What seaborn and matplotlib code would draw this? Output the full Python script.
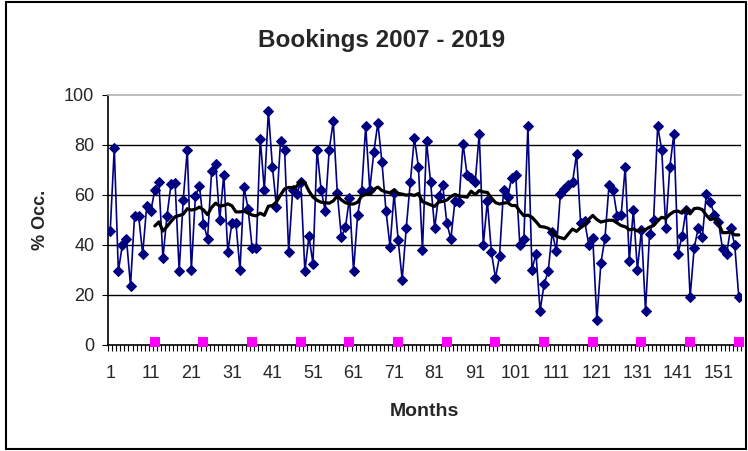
import pandas as pd
import matplotlib
matplotlib.use("Agg")
import matplotlib.pyplot as plt
import seaborn as sns
from matplotlib.patches import Rectangle

# monthly occupancy (%), Jan 2007 .. Dec 2019
occupancy = [
    45.5, 78.6, 29.3, 39.9, 42.3, 23.5, 51.5, 51.5, 36.2, 55.5, 53.3, 61.9,
    64.9, 34.6, 51.5, 64.2, 64.6, 29.3, 57.9, 77.9, 29.8, 59.3, 63.5, 48.3,
    42.3, 69.3, 72.2, 49.7, 68.0, 36.9, 48.6, 48.6, 29.8, 63.0, 54.2, 38.6,
    38.6, 82.3, 61.7, 93.5, 71.0, 55.0, 81.3, 77.9, 36.9, 61.9, 60.2, 64.9,
    29.3, 43.3, 32.4, 77.9, 61.9, 53.5, 77.9, 89.3, 60.5, 42.9, 46.9, 58.6,
    29.3, 51.7, 61.5, 87.3, 61.9, 76.9, 88.7, 73.0, 53.5, 39.1, 60.5, 41.8,
    25.9, 46.6, 64.9, 82.6, 71.0, 37.9, 81.3, 64.9, 46.6, 59.5, 63.7, 48.6,
    42.2, 57.3, 57.0, 80.3, 67.9, 66.6, 64.9, 84.3, 39.9, 57.3, 36.9, 26.6,
    35.3, 61.9, 58.9, 66.6, 67.9, 39.9, 42.3, 87.3, 29.9, 36.3, 13.5, 24.2,
    29.3, 45.0, 37.3, 60.2, 62.2, 63.9, 64.9, 76.2, 48.6, 49.3, 39.9, 42.6,
    9.9, 32.6, 42.6, 63.7, 61.9, 51.5, 51.9, 71.0, 33.5, 53.8, 29.9, 45.9,
    13.5, 44.3, 49.9, 87.3, 77.9, 46.6, 71.0, 84.3, 36.2, 43.3, 53.9, 19.0,
    38.6, 46.6, 42.9, 60.3, 56.9, 51.9, 48.9, 38.3, 36.3, 46.6, 39.9, 19.0,
]
months = list(range(1, len(occupancy) + 1))

# year-end markers shown along the bottom
year_end_months = [12, 24, 36, 48, 60, 72, 84, 96, 108, 120, 132, 144, 156]
year_end_values = [1] * len(year_end_months)

x_tick_labels = [1, 11, 21, 31, 41, 51, 61, 71, 81, 91, 101, 111, 121, 131, 141, 151]
y_ticks = [0, 20, 40, 60, 80, 100]

df = pd.DataFrame({"month": months, "occ": occupancy})
# 12 month moving average, like the Excel trendline
df["ma"] = df["occ"].rolling(12).mean()
marks = pd.DataFrame({"month": year_end_months, "val": year_end_values})

sns.set_style("white")
plt.rcParams["font.family"] = ["Liberation Sans", "DejaVu Sans"]

W, H = 748, 451
fig = plt.figure(figsize=(W / 100, H / 100), dpi=100)
ax = fig.add_axes([108.2 / W, (H - 344.5) / H, (740.8 - 108.2) / W, 250 / H])

for v in y_ticks[1:-1]:
    ax.axhline(v, color="black", lw=1.0, zorder=1)

sns.lineplot(data=df, x="month", y="occ", ax=ax, color="#000080", lw=1.2,
             marker="D", markersize=5.5, markeredgecolor="#000080",
             markerfacecolor="#000080", zorder=3)
sns.lineplot(data=df, x="month", y="ma", ax=ax, color="black", lw=2.3, zorder=4)
sns.lineplot(data=marks, x="month", y="val", ax=ax, color="#FF00FF", lw=0,
             marker="s", markersize=6.5, markeredgewidth=0, zorder=5, clip_on=False)

ax.set_xlim(0.5, len(occupancy) + 0.5)
ax.set_ylim(0, 100)
ax.set_yticks(y_ticks)
ax.set_xticks(x_tick_labels)
ax.set_xticklabels([str(t) for t in x_tick_labels])
ax.set_xticks([m + 0.5 for m in range(0, len(occupancy) + 1)], minor=True)
ax.tick_params(axis="x", which="major", length=0, pad=15, labelsize=13)
ax.tick_params(axis="x", which="minor", length=4, width=0.8, direction="out",
               color="black", bottom=True)
ax.tick_params(axis="y", length=4, width=0.8, direction="out", color="black",
               left=True, pad=6, labelsize=13)

for side in ["left", "bottom"]:
    ax.spines[side].set_color("black")
    ax.spines[side].set_linewidth(1.2)
ax.spines["top"].set_color("#b0b0b0")
ax.spines["top"].set_linewidth(1.2)
ax.spines["right"].set_visible(False)

ax.set_xlabel("Months", fontsize=14, fontweight="bold", labelpad=15)
ax.set_ylabel("% Occ.", fontsize=13, fontweight="bold", labelpad=11)
fig.text(382 / W, 1 - 40 / H, "Bookings 2007 - 2019", ha="center", va="center",
         fontsize=17.5, fontweight="bold")

# chart area border
fig.patches.append(Rectangle((6 / W, 2 / H), 740 / W, 447 / H, transform=fig.transFigure,
                             fill=False, edgecolor="black", lw=1.5))

fig.savefig("out.png", dpi=100)
